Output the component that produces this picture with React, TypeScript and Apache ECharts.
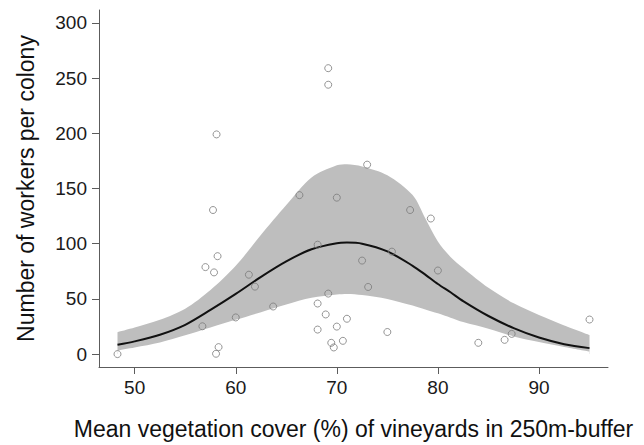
import { useEffect, useRef } from "react";
import * as echarts from "echarts";

// Observed colonies (x = vegetation cover %, y = workers per colony)
const pointX = [
  48.3, 57.75, 58.2, 57.0, 57.85, 61.3, 61.9, 63.7, 56.7, 60.0, 58.3, 58.05, 66.3, 58.1,
  69.15, 69.15, 73.0, 70.0, 77.25, 79.3, 68.1, 75.45, 72.5, 80.0, 73.1, 69.15, 68.1,
  68.9, 71.0, 70.0, 68.1, 75.0, 70.6, 69.45, 69.7, 84.0, 86.6, 87.3, 95.0,
];
const pointY = [
  0, 130.5, 88.7, 78.8, 74, 71.9, 61.1, 43.1, 25.2, 33.2, 6.3, 0.3, 144, 199,
  259, 244, 171.6, 141.7, 130.5, 122.8, 99.1, 92.8, 84.7, 75.7, 60.8, 54.8, 45.8,
  35.9, 32, 24.9, 22.2, 20, 12, 10.2, 6, 10.2, 12.9, 18.3, 31.3,
];

// Fitted curve and its confidence band
const fitX = [48.3, 50, 52.5, 55, 57.5, 60, 62.5, 65, 67.5, 70, 71, 72.5, 75, 77.5, 78.75, 80, 81.25, 82.5, 85, 87.5, 90, 92.5, 95];
const fitY = [8.4, 11.5, 17.5, 26.5, 40, 54.5, 70, 84, 95, 100.5, 101, 100, 93, 80, 72, 63.5, 56, 48, 34.5, 23.5, 15, 9, 5.4];
const fitUpper = [19.8, 24, 31, 41, 58, 80, 108, 135, 160, 171, 172, 170, 162, 144, 123, 102, 88, 78, 60, 46, 35.5, 26, 17.4];
const fitLower = [3.3, 6, 10.5, 17, 24, 31, 38, 45, 51, 54, 54.5, 53.5, 50, 44, 40.5, 37, 33, 29, 23, 16, 11, 6.5, 2.4];

const xTicks = [50, 60, 70, 80, 90];
const yTicks = [0, 50, 100, 150, 200, 250, 300];

const xTitle = "Mean vegetation cover (%) of vineyards in 250m-buffer";
const yTitle = "Number of workers per colony";

export default function App() {
  const ref = useRef<HTMLDivElement>(null);
  useEffect(() => {
    const chart = echarts.init(ref.current as HTMLDivElement, null, { renderer: "svg" });
    const font = "'Liberation Sans', Arial, Helvetica, sans-serif";
    const axisColor = "#5c5c5c";
    chart.setOption({
      animation: false,
      backgroundColor: "#ffffff",
      grid: { left: 99, right: 36, top: 10, bottom: 76, containLabel: false },
      xAxis: {
        type: "value",
        min: 46.47,
        max: 96.83,
        name: xTitle,
        nameLocation: "middle",
        nameGap: 50,
        nameTextStyle: { fontFamily: font, fontSize: 23, color: "#111" },
        axisLine: { show: true, onZero: false, lineStyle: { color: axisColor, width: 1 } },
        axisTick: { show: true, length: 7, customValues: xTicks, lineStyle: { color: axisColor } },
        axisLabel: { customValues: xTicks, margin: 11, fontFamily: font, fontSize: 19, color: "#1a1a1a" },
        splitLine: { show: false },
      },
      yAxis: {
        type: "value",
        min: -11.7,
        max: 311.7,
        name: yTitle,
        nameLocation: "middle",
        nameGap: 62,
        nameTextStyle: { fontFamily: font, fontSize: 23, color: "#111" },
        axisLine: { show: true, onZero: false, lineStyle: { color: axisColor, width: 1 } },
        axisTick: { show: true, length: 7, customValues: yTicks, lineStyle: { color: axisColor } },
        axisLabel: { customValues: yTicks, margin: 12, fontFamily: font, fontSize: 19, color: "#1a1a1a" },
        splitLine: { show: false },
      },
      series: [
        {
          type: "line",
          name: "upper",
          data: fitX.map((x, i) => [x, fitUpper[i]]),
          symbol: "none",
          smooth: 0.3,
          lineStyle: { width: 0, opacity: 0 },
          areaStyle: { color: "#bebebe", opacity: 1, origin: 0 },
          silent: true,
          z: 1,
        },
        {
          type: "line",
          name: "lower",
          data: fitX.map((x, i) => [x, fitLower[i]]),
          symbol: "none",
          smooth: 0.3,
          lineStyle: { width: 0, opacity: 0 },
          areaStyle: { color: "#ffffff", opacity: 1, origin: 0 },
          silent: true,
          z: 1,
        },
        {
          type: "line",
          name: "fit",
          data: fitX.map((x, i) => [x, fitY[i]]),
          symbol: "none",
          smooth: 0.3,
          lineStyle: { color: "#111111", width: 2 },
          z: 2,
        },
        {
          type: "scatter",
          name: "colonies",
          data: pointX.map((x, i) => [x, pointY[i]]),
          symbol: "circle",
          symbolSize: 7,
          itemStyle: { color: "rgba(0,0,0,0)", borderColor: "#7a7a7a", borderWidth: 1 },
          z: 3,
        },
      ],
    });
    return () => chart.dispose();
  }, []);
  return (
    <div
      ref={ref}
      style={{ position: "fixed", left: 0, top: 0, width: 644, height: 445, background: "#fff" }}
    />
  );
}
